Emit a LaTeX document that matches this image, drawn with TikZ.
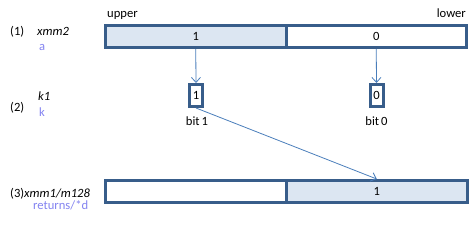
\documentclass[tikz,border=0pt]{standalone}
\usepackage{fontspec}
\setmainfont{Carlito}
\usepackage{tikz}
\usetikzlibrary{arrows.meta}

\definecolor{regline}{HTML}{385D8A}
\definecolor{regfill}{HTML}{DCE6F2}
\definecolor{arrline}{HTML}{4A7EBB}
\definecolor{argname}{HTML}{8383F0}

\tikzset{
    half/.style={draw=regline, line width=3pt, minimum width=180.5pt, minimum height=22pt, inner sep=0pt},
    bitbox/.style={draw=regline, line width=3pt, minimum width=13pt, minimum height=22pt, inner sep=0pt},
    lbl/.style={inner sep=0pt},
    arg/.style={inner sep=0pt, text=argname},
    flow/.style={draw=arrline, line width=0.8pt, -{Straight Barb[length=5pt, width=9pt]}},
}

\begin{document}
\begin{tikzpicture}[x=1pt, y=-1pt, font=\fontsize{12.6}{15}\selectfont]
        \useasboundingbox (0,0) rectangle (476,225);

        \node[half, fill=regfill] (a1) at (195.75,36.5) {1};
        \node[half] (a0) at (376.25,36.5) {0};
        \node[half] (r1) at (195.75,191.5) {};
        \node[half, fill=regfill] (r0) at (376.75,191.5) {1};

        \node[bitbox] (k1) at (196,95.5) {1};
        \node[bitbox] (k0) at (376.5,95.5) {0};

        \node[lbl, anchor=base west] (up) at (107,17) {upper};
        \node[lbl, anchor=base east] (lo) at (466,17) {lower};

        \node[lbl, anchor=base west] (n1) at (10,35) {(1)};
        \node[lbl, anchor=base west] (op1) at (37,35) {\itshape xmm2};
        \node[arg, anchor=base west] (v1) at (39,50) {a};

        \node[lbl, anchor=base west] (n2) at (10,111.5) {(2)};
        \node[lbl, anchor=base west] (op2) at (38,100.5) {\itshape k1};
        \node[arg, anchor=base west] (v2) at (39,116.5) {k};

        \node[lbl, anchor=base] (b1) at (197,125) {bit\,1};
        \node[lbl, anchor=base] (b0) at (376.5,125) {bit\,0};

        \node[lbl, anchor=base west] (n3) at (10,197) {(3)\itshape xmm1/m128};
        \node[arg, anchor=base west] (v3) at (33,209) {returns/*d};

        \draw[flow] (a1.south) -- (k1.north);
        \draw[flow] (a0.south) -- (k0.north);
        \draw[flow] (k1.south) -- (r0.north);
\end{tikzpicture}
\end{document}
